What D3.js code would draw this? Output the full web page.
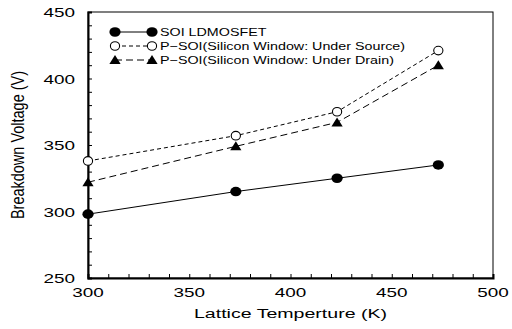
<!DOCTYPE html>
<html>
<head>
<meta charset="utf-8">
<script src="https://cdn.jsdelivr.net/npm/d3@7"></script>
<style>
  html, body { margin: 0; padding: 0; background: #fff; }
  svg { display: block; font-family: "Liberation Sans", Arial, sans-serif; }
</style>
</head>
<body>
<svg id="chart" width="512" height="329"></svg>
<script>
// Lattice temperature (K) and breakdown voltage (V) for each device
const temperatures = [300, 373, 423, 473];
const soiLdmos = [298, 315, 325, 335];
const psoiSource = [338, 357, 375, 421];
const psoiDrain = [322, 349, 367, 410];

const seriesNames = [
  "SOI LDMOSFET",
  "P\u2212SOI(Silicon Window: Under Source)",
  "P\u2212SOI(Silicon Window: Under Drain)"
];

const xTicks = [300, 350, 400, 450, 500];
const yTicks = [250, 300, 350, 400, 450];

const svg = d3.select("#chart");
const margin = { left: 88, top: 12, right: 19, bottom: 51 };
const W = 512, H = 329;
const SX = 1.4; // wide lettering used throughout the figure

const x = d3.scaleLinear().domain([300, 500]).range([margin.left, W - margin.right]);
const y = d3.scaleLinear().domain([250, 450]).range([H - margin.bottom, margin.top]);

// horizontally widened text helper
function wideText(parent, tx, ty, str, size, anchor, sx) {
  return parent.append("text")
    .attr("transform", `translate(${tx},${ty}) scale(${sx},1)`)
    .attr("text-anchor", anchor)
    .attr("font-size", size)
    .attr("fill", "#000")
    .text(str);
}

// plot frame
svg.append("rect")
  .attr("x", x(300)).attr("y", y(450))
  .attr("width", x(500) - x(300)).attr("height", y(250) - y(450))
  .attr("fill", "none").attr("stroke", "#000").attr("stroke-width", 1);

// bottom axis: inward ticks every 10 K
const xAxis = svg.append("g").attr("transform", `translate(0,${y(250)})`);
xAxis.call(d3.axisBottom(x).tickValues(d3.range(300, 501, 10)).tickSize(-4).tickFormat(""));
xAxis.selectAll(".domain").attr("stroke-width", 2);
xTicks.forEach(t => wideText(svg, x(t), y(250) + 19, d3.format("d")(t), 13.5, "middle", SX));

// left axis: inward ticks every 10 V
const yAxis = svg.append("g").attr("transform", `translate(${x(300)},0)`);
yAxis.call(d3.axisLeft(y).tickValues(d3.range(250, 451, 10)).tickSize(-4).tickFormat(""));
yAxis.selectAll(".domain").attr("stroke-width", 2);
yTicks.forEach(t => wideText(svg, 75, y(t) + 5, d3.format("d")(t), 13.5, "end", SX));

// axis titles
wideText(svg, (x(300) + x(500)) / 2, 318, "Lattice Temperture (K)", 13.5, "middle", 1.45);
svg.append("text")
  .attr("transform", `translate(24,${(y(250) + y(450)) / 2}) scale(1.3,1) rotate(-90)`)
  .attr("text-anchor", "middle").attr("font-size", 14.5)
  .text("Breakdown Voltage (V)");

const series = [
  { name: seriesNames[0], values: soiLdmos, dash: null, marker: "dot" },
  { name: seriesNames[1], values: psoiSource, dash: "4,3", marker: "open" },
  { name: seriesNames[2], values: psoiDrain, dash: "7,4", marker: "tri" }
];

const line = d3.line().x((d, i) => x(temperatures[i])).y(d => y(d));

function drawMarker(g, kind, cx, cy) {
  if (kind === "dot") {
    g.append("ellipse").attr("cx", cx).attr("cy", cy).attr("rx", 5.6).attr("ry", 4.8).attr("fill", "#000");
  } else if (kind === "open") {
    g.append("ellipse").attr("cx", cx).attr("cy", cy).attr("rx", 4.6).attr("ry", 4.3)
      .attr("fill", "#fff").attr("stroke", "#000").attr("stroke-width", 1.1);
  } else {
    g.append("path")
      .attr("d", `M${cx},${cy - 5}L${cx + 5.6},${cy + 4}L${cx - 5.6},${cy + 4}Z`)
      .attr("fill", "#000");
  }
}

series.forEach(s => {
  svg.append("path").datum(s.values)
    .attr("d", line).attr("fill", "none").attr("stroke", "#000").attr("stroke-width", 1)
    .attr("stroke-dasharray", s.dash);
  const g = svg.append("g");
  s.values.forEach((v, i) => drawMarker(g, s.marker, x(temperatures[i]), y(v)));
});

// legend
const legendRows = [32, 46, 60];
series.forEach((s, i) => {
  const ly = legendRows[i];
  const g = svg.append("g");
  g.append("line").attr("x1", 115).attr("x2", 152).attr("y1", ly).attr("y2", ly)
    .attr("stroke", "#000").attr("stroke-width", 1).attr("stroke-dasharray", s.dash);
  drawMarker(g, s.marker, 115, ly);
  drawMarker(g, s.marker, 152, ly);
  wideText(g, 160, ly + 4, s.name, 11, "start", 1.3);
});
</script>
</body>
</html>
